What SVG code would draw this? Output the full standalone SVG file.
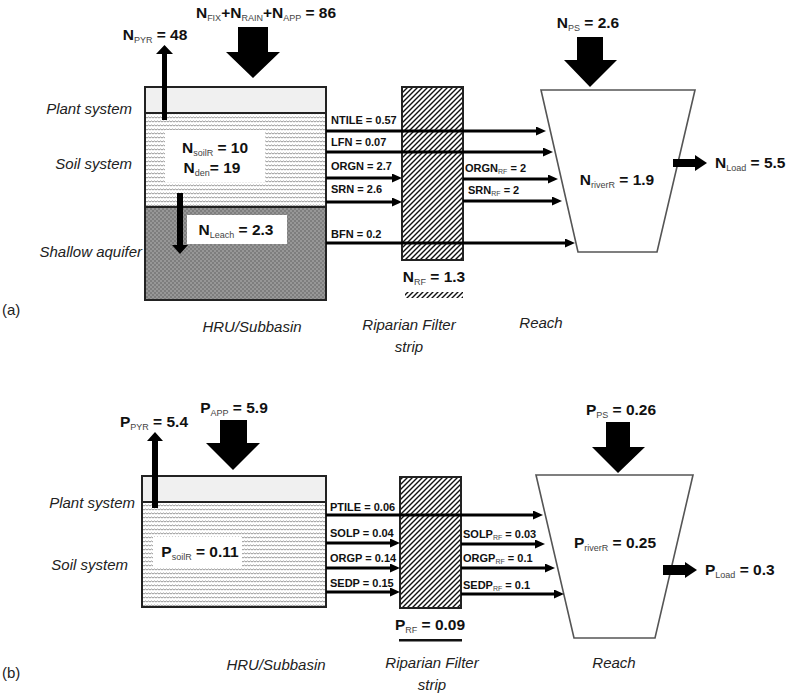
<svg xmlns="http://www.w3.org/2000/svg" width="790" height="696" viewBox="0 0 790 696">
<style>
.ital{font-family:"Liberation Sans",Arial,sans-serif;font-style:italic;font-size:15px;fill:#222}
.val{font-family:"Liberation Sans",Arial,sans-serif;font-weight:bold;font-size:15.5px;fill:#111}
.sm{font-family:"Liberation Sans",Arial,sans-serif;font-weight:bold;font-size:11px;fill:#111}
.sub{font-weight:normal;fill:#444}
.plain{font-family:"Liberation Sans",Arial,sans-serif;font-size:15px;fill:#222}
.box{stroke:#222;stroke-width:2}
.flow{stroke:#000;stroke-width:3;fill:none;marker-end:url(#ah)}
.reach{fill:#fff;stroke:#555;stroke-width:1.6}
.blk{fill:#000}
</style>
<defs>
<marker id="ah" viewBox="0 0 10 9" markerWidth="10" markerHeight="9" markerUnits="userSpaceOnUse" refX="2" refY="4.5" orient="auto">
<path d="M0,0 L10,4.5 L0,9 z" fill="#000"/>
</marker>
<pattern id="wavy" width="6" height="4" patternUnits="userSpaceOnUse">
<rect width="6" height="4" fill="#fff"/>
<path d="M0,2 L1.5,1 L3,2 L4.5,1 L6,2" fill="none" stroke="#8a8a8a" stroke-width="0.9"/>
</pattern>
<pattern id="dots" width="4" height="4" patternUnits="userSpaceOnUse">
<rect width="4" height="4" fill="#7e7e7e"/>
<circle cx="1" cy="1" r="0.8" fill="#b8b8b8"/>
<circle cx="3" cy="3" r="0.8" fill="#b8b8b8"/>
</pattern>
<pattern id="hatch" width="5" height="5" patternUnits="userSpaceOnUse">
<rect width="5" height="5" fill="#fff"/>
<path d="M0,5 L5,0 M-1,1 L1,-1 M4,6 L6,4" stroke="#111" stroke-width="1.4"/>
</pattern>
</defs>

<!-- ===== Panel (a) ===== -->
<g id="hru-a">
<rect x="145" y="87" width="181" height="26" fill="#f0f0f0" class="box"/>
<rect x="145" y="113" width="181" height="94" fill="url(#wavy)" class="box"/>
<rect x="145" y="207" width="181" height="93" fill="url(#dots)" class="box"/>
<rect x="165" y="130" width="100" height="52" fill="#fff"/>
<text class="val" x="215" y="153" text-anchor="middle">N<tspan class="sub" font-size="9" dy="3">soilR</tspan><tspan dy="-3"> = 10</tspan></text>
<text class="val" x="212" y="173" text-anchor="middle">N<tspan class="sub" font-size="9" dy="3">den</tspan><tspan dy="-3">= 19</tspan></text>
<rect x="187" y="215" width="100" height="29" fill="#fff"/>
<text class="val" x="236" y="235" text-anchor="middle">N<tspan class="sub" font-size="9" dy="3">Leach</tspan><tspan dy="-3"> = 2.3</tspan></text>
</g>
<g id="labels-a">
<text class="ital" x="132" y="114" text-anchor="end">Plant system</text>
<text class="ital" x="132" y="169" text-anchor="end">Soil system</text>
<text class="ital" x="142" y="257" text-anchor="end">Shallow aquifer</text>
<text class="plain" x="2" y="315">(a)</text>
<text class="ital" x="252" y="332" text-anchor="middle">HRU/Subbasin</text>
<text class="ital" x="409" y="330" text-anchor="middle">Riparian Filter</text>
<text class="ital" x="409" y="352" text-anchor="middle">strip</text>
<text class="ital" x="541" y="328" text-anchor="middle">Reach</text>
</g>
<g id="filter-a">
<rect x="402" y="87" width="61" height="173" fill="url(#hatch)" class="box"/>
<text class="val" x="434" y="282" text-anchor="middle">N<tspan class="sub" font-size="9" dy="3">RF</tspan><tspan dy="-3"> = 1.3</tspan></text>
<rect x="405" y="292" width="58" height="6" fill="url(#hatch)"/>
</g>
<g id="reach-a">
<polygon class="reach" points="541,90 695,90 657,252 578,252"/>
<text class="val" x="617" y="185" text-anchor="middle">N<tspan class="sub" font-size="9" dy="3">riverR</tspan><tspan dy="-3"> = 1.9</tspan></text>
</g>
<g id="inputs-a">
<text class="val" x="266" y="18" text-anchor="middle">N<tspan class="sub" font-size="9" dy="3">FIX</tspan><tspan dy="-3">+N</tspan><tspan class="sub" font-size="9" dy="3">RAIN</tspan><tspan dy="-3">+N</tspan><tspan class="sub" font-size="9" dy="3">APP</tspan><tspan dy="-3"> = 86</tspan></text>
<text class="val" x="155" y="40" text-anchor="middle">N<tspan class="sub" font-size="9" dy="3">PYR</tspan><tspan dy="-3"> = 48</tspan></text>
<text class="val" x="588" y="28" text-anchor="middle">N<tspan class="sub" font-size="9" dy="3">PS</tspan><tspan dy="-3"> = 2.6</tspan></text>
<text class="val" x="715" y="168">N<tspan class="sub" font-size="9" dy="3">Load</tspan><tspan dy="-3"> = 5.5</tspan></text>
</g>
<g id="connectors-a">
<polygon class="blk" points="238,27 268,27 268,52 280,52 253,78 226,52 238,52"/>
<polygon class="blk" points="577,37 603,37 603,60 617,60 590,87 564,60 577,60"/>
<polygon class="blk" points="162,120 167,120 167,54 173,54 164.5,45 156,54 162,54"/>
<polygon class="blk" points="177,193 183,193 183,245 188,245 180,254 172,245 177,245"/>
<polygon class="blk" points="673,159 695,159 695,155 707,163 695,171 695,167 673,167"/>
<line class="flow" x1="326" y1="131" x2="538" y2="131"/>
<line class="flow" x1="326" y1="152" x2="545" y2="152"/>
<line class="flow" x1="326" y1="178" x2="394" y2="178"/>
<line class="flow" x1="463" y1="179" x2="550" y2="179"/>
<line class="flow" x1="326" y1="202" x2="394" y2="202"/>
<line class="flow" x1="463" y1="201" x2="554" y2="201"/>
<line class="flow" x1="326" y1="243" x2="567" y2="243"/>
<text class="sm" x="331" y="124">NTILE = 0.57</text>
<text class="sm" x="331" y="146">LFN = 0.07</text>
<text class="sm" x="331" y="170">ORGN = 2.7</text>
<text class="sm" x="331" y="193">SRN = 2.6</text>
<text class="sm" x="331" y="238">BFN = 0.2</text>
<text class="sm" x="465" y="172">ORGN<tspan class="sub" font-size="7" dy="2">RF</tspan><tspan dy="-2"> = 2</tspan></text>
<text class="sm" x="468" y="194">SRN<tspan class="sub" font-size="7" dy="2">RF</tspan><tspan dy="-2"> = 2</tspan></text>
</g>

<!-- ===== Panel (b) ===== -->
<g id="hru-b">
<rect x="142" y="476" width="184" height="26" fill="#f0f0f0" class="box"/>
<rect x="142" y="502" width="184" height="105" fill="url(#wavy)" class="box"/>
<rect x="153" y="537" width="89" height="30" fill="#fff"/>
<text class="val" x="200" y="557" text-anchor="middle">P<tspan class="sub" font-size="9" dy="3">soilR</tspan><tspan dy="-3"> = 0.11</tspan></text>
</g>
<g id="labels-b">
<text class="ital" x="135" y="508" text-anchor="end">Plant system</text>
<text class="ital" x="128" y="570" text-anchor="end">Soil system</text>
<text class="plain" x="2" y="678">(b)</text>
<text class="ital" x="276" y="670" text-anchor="middle">HRU/Subbasin</text>
<text class="ital" x="432" y="668" text-anchor="middle">Riparian Filter</text>
<text class="ital" x="432" y="690" text-anchor="middle">strip</text>
<text class="ital" x="614" y="668" text-anchor="middle">Reach</text>
</g>
<g id="filter-b">
<rect x="400" y="477" width="61" height="131" fill="url(#hatch)" class="box"/>
<text class="val" x="430" y="630" text-anchor="middle">P<tspan class="sub" font-size="9" dy="3">RF</tspan><tspan dy="-3"> = 0.09</tspan></text>
<rect x="399" y="639" width="63" height="2.5" fill="#111"/>
</g>
<g id="reach-b">
<polygon class="reach" points="536,475 693,475 655,638 574,638"/>
<text class="val" x="615" y="548" text-anchor="middle">P<tspan class="sub" font-size="9" dy="3">riverR</tspan><tspan dy="-3"> = 0.25</tspan></text>
</g>
<g id="inputs-b">
<text class="val" x="234" y="413" text-anchor="middle">P<tspan class="sub" font-size="9" dy="3">APP</tspan><tspan dy="-3"> = 5.9</tspan></text>
<text class="val" x="154" y="427" text-anchor="middle">P<tspan class="sub" font-size="9" dy="3">PYR</tspan><tspan dy="-3"> = 5.4</tspan></text>
<text class="val" x="621" y="415" text-anchor="middle">P<tspan class="sub" font-size="9" dy="3">PS</tspan><tspan dy="-3"> = 0.26</tspan></text>
<text class="val" x="705" y="575">P<tspan class="sub" font-size="9" dy="3">Load</tspan><tspan dy="-3"> = 0.3</tspan></text>
</g>
<g id="connectors-b">
<polygon class="blk" points="220,420 247,420 247,443 260,443 233,470 206,443 220,443"/>
<polygon class="blk" points="606,422 630,422 630,447 645,447 618,473 592,447 606,447"/>
<polygon class="blk" points="152,508 158,508 158,441 163,441 155,432 147,441 152,441"/>
<polygon class="blk" points="663,565 685,565 685,562 697,570 685,578 685,575 663,575"/>
<line class="flow" x1="326" y1="515" x2="535" y2="515"/>
<line class="flow" x1="326" y1="543" x2="392" y2="543"/>
<line class="flow" x1="461" y1="544" x2="537" y2="544"/>
<line class="flow" x1="326" y1="568" x2="392" y2="568"/>
<line class="flow" x1="461" y1="568" x2="547" y2="568"/>
<line class="flow" x1="326" y1="592" x2="392" y2="592"/>
<line class="flow" x1="461" y1="594" x2="556" y2="594"/>
<text class="sm" x="330" y="511">PTILE = 0.06</text>
<text class="sm" x="330" y="537">SOLP = 0.04</text>
<text class="sm" x="330" y="562">ORGP = 0.14</text>
<text class="sm" x="330" y="587">SEDP = 0.15</text>
<text class="sm" x="463" y="538">SOLP<tspan class="sub" font-size="7" dy="2">RF</tspan><tspan dy="-2"> = 0.03</tspan></text>
<text class="sm" x="463" y="562">ORGP<tspan class="sub" font-size="7" dy="2">RF</tspan><tspan dy="-2"> = 0.1</tspan></text>
<text class="sm" x="463" y="589">SEDP<tspan class="sub" font-size="7" dy="2">RF</tspan><tspan dy="-2"> = 0.1</tspan></text>
</g>
</svg>
